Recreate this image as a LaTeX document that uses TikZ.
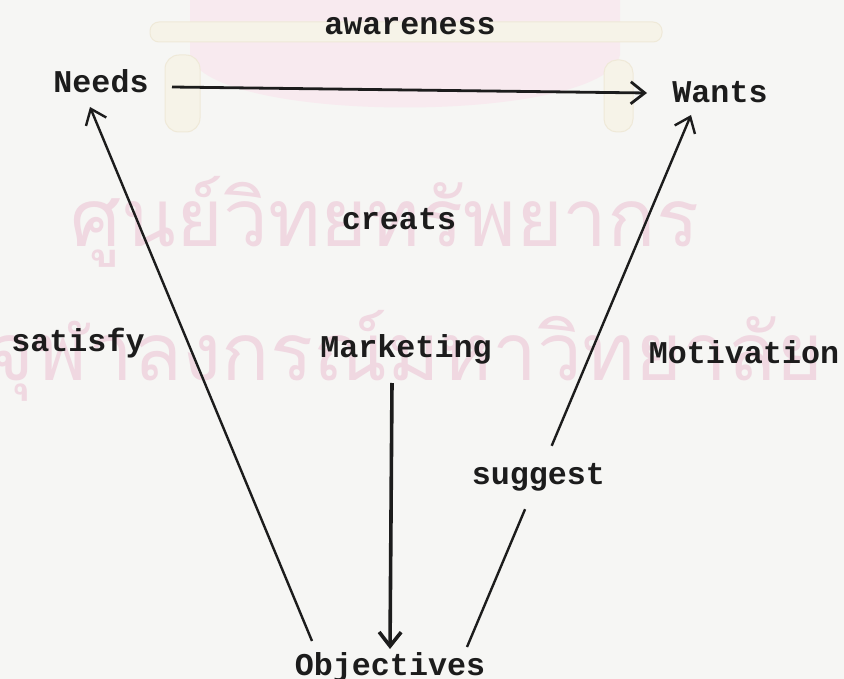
\documentclass[tikz,border=0pt]{standalone}
\usepackage{fontspec}
\newfontfamily\typer{Liberation Mono}
\newfontfamily\thaifont[Script=Thai]{Loma}
\usetikzlibrary{arrows.meta}
\definecolor{paper}{RGB}{246,246,244}
\definecolor{ink}{RGB}{28,28,28}
\definecolor{stamp}{RGB}{240,216,225}
\definecolor{stamplight}{RGB}{248,234,239}
\definecolor{cream}{RGB}{246,243,232}
\definecolor{creamline}{RGB}{239,233,216}

\begin{document}
\begin{tikzpicture}[x=1pt,y=-1pt,
  word/.style={font=\typer\bfseries\fontsize{31.7}{36}\selectfont, text=ink, inner sep=0pt, anchor=base},
  watermark/.style={font=\thaifont\fontsize{80}{90}\selectfont, text=stamp, inner sep=0pt, anchor=base},
  link/.style={draw=ink, line width=2.4pt},
  barb/.style={-{Straight Barb[length=14pt,width=22pt]}},
]
\useasboundingbox (0,0) rectangle (844,679);
\fill[paper] (0,0) rectangle (844,679);

% library stamp: emblem and university name
\fill[stamplight] (190,0) -- (190,55) .. controls (205,125) and (605,125) .. (620,55) -- (620,0) -- cycle;
\draw[creamline, fill=cream, line width=1pt, rounded corners=9pt] (150,22) rectangle (662,42);
\draw[creamline, fill=cream, line width=1pt, rounded corners=14pt] (165,55) rectangle (200,132);
\draw[creamline, fill=cream, line width=1pt, rounded corners=13pt] (604,60) rectangle (633,132);
\node[watermark] (wm1) at (385,247) {ศูนย์วิทยทรัพยากร};
\node[watermark] (wm2) at (405,380) {จุฬาลงกรณ์มหาวิทยาลัย};

% terms
\node[word] (awareness) at (410,35) {awareness};
\node[word] (needs) at (101,93) {Needs};
\node[word] (wants) at (720,103) {Wants};
\node[word] (creats) at (399,230) {creats};
\node[word] (satisfy) at (78,352) {satisfy};
\node[word] (marketing) at (406,357) {Marketing};
\node[word] (motivation) at (744,363) {Motivation};
\node[word] (objectives) at (390,675) {Objectives};
\node[word, anchor=center, minimum height=63pt] (suggest) at (538.4,477.5) {suggest};

% relations
\draw[link, line width=2.8pt, barb] ([xshift=71pt,yshift=6pt]needs.base) -- ([xshift=-73pt,yshift=10pt]wants.base);
\draw[link, barb] ([xshift=-78pt,yshift=34pt]objectives.base) -- ([xshift=-11pt,yshift=-14pt]needs.base);
\draw[link, barb] ([xshift=77pt,yshift=28pt]objectives.base) -- (suggest) -- ([xshift=-29pt,yshift=-12pt]wants.base);
\draw[link, line width=3.6pt, barb] ([xshift=-14pt,yshift=-26pt]marketing.base) -- ([yshift=26pt]objectives.base);
\end{tikzpicture}
\end{document}
